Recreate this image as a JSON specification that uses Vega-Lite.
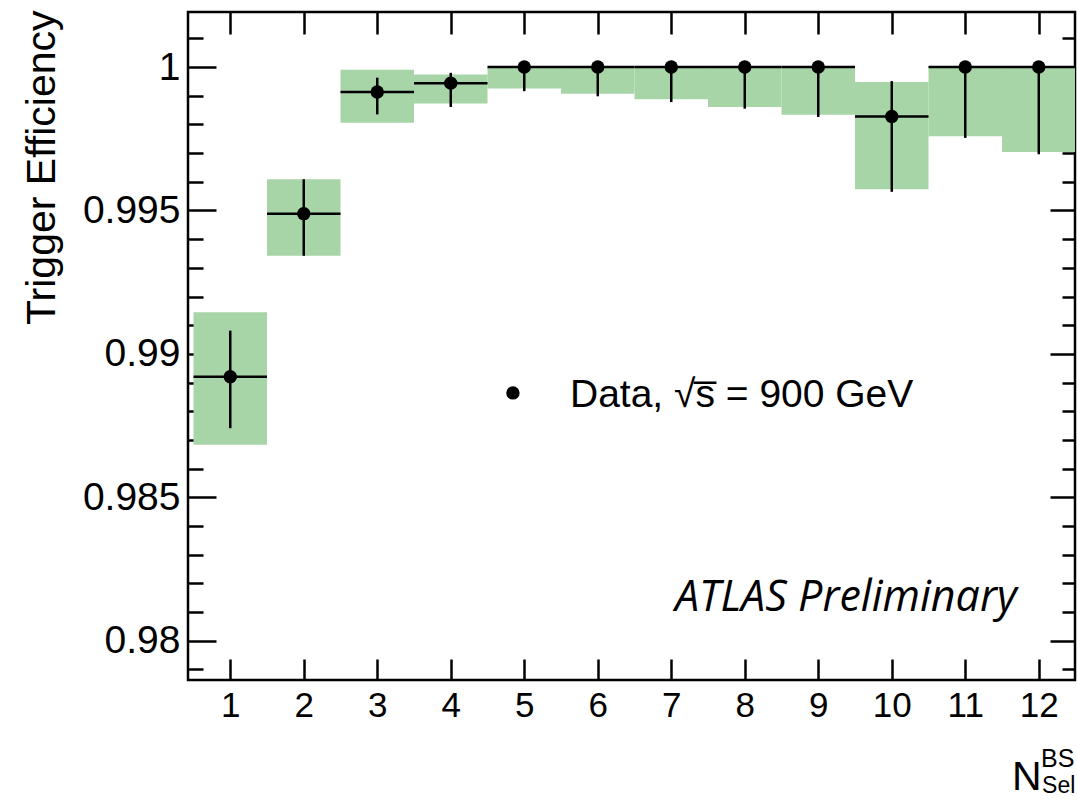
{
  "$schema": "https://vega.github.io/schema/vega-lite/v6.json",
  "width": 887,
  "height": 668,
  "autosize": {"type": "none"},
  "padding": {"left": 188, "top": 12, "right": 2, "bottom": 123},
  "background": "white",
  "config": {
    "view": {"stroke": "black", "strokeWidth": 2.5},
    "font": "Liberation Sans",
    "axis": {"domain": false, "grid": false, "tickColor": "black", "tickWidth": 2.5, "labelColor": "black", "labelFont": "Liberation Sans", "titleFont": "Liberation Sans", "titleColor": "black", "labelOverlap": false, "labelFlush": false, "labelBound": false}
  },
  "datasets": {
    "bins": [
      {"bin": 1, "lo": 0.5, "hi": 1.5, "val": 0.9892, "eLo": 0.98741, "eHi": 0.99081, "bLo": 0.98683, "bHi": 0.99145},
      {"bin": 2, "lo": 1.5, "hi": 2.5, "val": 0.99489, "eLo": 0.99342, "eHi": 0.99609, "bLo": 0.99342, "bHi": 0.99609},
      {"bin": 3, "lo": 2.5, "hi": 3.5, "val": 0.99913, "eLo": 0.99835, "eHi": 0.99963, "bLo": 0.99806, "bHi": 0.99991},
      {"bin": 4, "lo": 3.5, "hi": 4.5, "val": 0.99944, "eLo": 0.99861, "eHi": 0.9998, "bLo": 0.99873, "bHi": 0.99974},
      {"bin": 5, "lo": 4.5, "hi": 5.5, "val": 1.0, "eLo": 0.99916, "eHi": 1.0, "bLo": 0.99925, "bHi": 1.0},
      {"bin": 6, "lo": 5.5, "hi": 6.5, "val": 1.0, "eLo": 0.99898, "eHi": 1.0, "bLo": 0.99907, "bHi": 1.0},
      {"bin": 7, "lo": 6.5, "hi": 7.5, "val": 1.0, "eLo": 0.99878, "eHi": 1.0, "bLo": 0.99888, "bHi": 1.0},
      {"bin": 8, "lo": 7.5, "hi": 8.5, "val": 1.0, "eLo": 0.99855, "eHi": 1.0, "bLo": 0.99861, "bHi": 1.0},
      {"bin": 9, "lo": 8.5, "hi": 9.5, "val": 1.0, "eLo": 0.99826, "eHi": 1.0, "bLo": 0.99834, "bHi": 1.0},
      {"bin": 10, "lo": 9.5, "hi": 10.5, "val": 0.99828, "eLo": 0.99565, "eHi": 0.99951, "bLo": 0.99574, "bHi": 0.99948},
      {"bin": 11, "lo": 10.5, "hi": 11.5, "val": 1.0, "eLo": 0.99753, "eHi": 1.0, "bLo": 0.99759, "bHi": 1.0},
      {"bin": 12, "lo": 11.5, "hi": 12.5, "val": 1.0, "eLo": 0.99696, "eHi": 1.0, "bLo": 0.99704, "bHi": 1.0}
    ]
  },
  "data": {"name": "bins"},
  "resolve": {"axis": {"x": "independent", "y": "independent"}},
  "layer": [
    {
      "mark": {"type": "rect", "color": "#a8d5a8", "opacity": 1, "clip": true},
      "encoding": {
        "x": {"field": "lo", "type": "quantitative", "scale": {"domain": [0.425, 12.493], "nice": false, "zero": false},
          "axis": {"orient": "bottom", "values": [1,2,3,4,5,6,7,8,9,10,11,12], "tickSize": -21, "labelPadding": 29, "labelFontSize": 35, "title": null, "format": "d"}},
        "x2": {"field": "hi"},
        "y": {"field": "bLo", "type": "quantitative", "scale": {"domain": [0.97863, 1.00192], "nice": false, "zero": false},
          "axis": {"orient": "left", "values": [0.98, 0.985, 0.99, 0.995, 1], "tickSize": -28, "labelPadding": 36, "labelFontSize": 39, "format": ".3~f",
            "title": "Trigger Efficiency", "titleFontSize": 41, "titleFontWeight": "normal", "titleAngle": -90, "titleX": -134, "titleY": -2, "titleAlign": "right", "titleBaseline": "alphabetic"}},
        "y2": {"field": "bHi"}
      }
    },
    {
      "mark": {"type": "rule", "color": "black", "strokeWidth": 2.5},
      "encoding": {
        "x": {"field": "bin", "type": "quantitative", "scale": {"domain": [0.425, 12.493], "nice": false, "zero": false},
          "axis": {"orient": "top", "values": [1,2,3,4,5,6,7,8,9,10,11,12], "tickSize": -22, "labels": false, "title": null}},
        "y": {"field": "eLo", "type": "quantitative", "scale": {"domain": [0.97863, 1.00192], "nice": false, "zero": false},
          "axis": {"orient": "right", "values": [0.98, 0.985, 0.99, 0.995, 1], "tickSize": -25, "labels": false, "title": null}},
        "y2": {"field": "eHi"}
      }
    },
    {
      "mark": {"type": "rule", "color": "black", "strokeWidth": 2.5, "clip": true},
      "encoding": {
        "x": {"field": "lo", "type": "quantitative", "scale": {"domain": [0.425, 12.493], "nice": false, "zero": false}, "axis": null},
        "x2": {"field": "hi"},
        "y": {"field": "val", "type": "quantitative", "scale": {"domain": [0.97863, 1.00192], "nice": false, "zero": false},
          "axis": {"orient": "left", "values": [0.979,0.981,0.982,0.983,0.984,0.986,0.987,0.988,0.989,0.991,0.992,0.993,0.994,0.996,0.997,0.998,0.999,1.001], "tickSize": -15, "labels": false, "title": null}}
      }
    },
    {
      "mark": {"type": "point", "filled": true, "color": "black", "opacity": 1, "size": 180},
      "encoding": {
        "x": {"field": "bin", "type": "quantitative", "scale": {"domain": [0.425, 12.493], "nice": false, "zero": false}, "axis": null},
        "y": {"field": "val", "type": "quantitative", "scale": {"domain": [0.97863, 1.00192], "nice": false, "zero": false},
          "axis": {"orient": "right", "values": [0.979,0.981,0.982,0.983,0.984,0.986,0.987,0.988,0.989,0.991,0.992,0.993,0.994,0.996,0.997,0.998,0.999,1.001], "tickSize": -13, "labels": false, "title": null}}
      }
    },
    {
      "data": {"values": [{}]},
      "mark": {"type": "point", "filled": true, "color": "black", "opacity": 1, "size": 180},
      "encoding": {
        "x": {"datum": 4.846, "type": "quantitative", "axis": null},
        "y": {"datum": 0.98864, "type": "quantitative", "axis": null}
      }
    },
    {
      "data": {"values": [{}]},
      "mark": {"type": "text", "text": "Data, √s̅ = 900 GeV", "font": "Liberation Sans", "fontSize": 39, "color": "black", "align": "left", "baseline": "alphabetic"},
      "encoding": {
        "x": {"datum": 5.622, "type": "quantitative", "axis": null},
        "y": {"datum": 0.98815, "type": "quantitative", "axis": null}
      }
    },
    {
      "data": {"values": [{}]},
      "mark": {"type": "text", "text": "ATLAS Preliminary", "font": "Open Sans", "fontStyle": "italic", "fontSize": 43, "color": "black", "align": "left", "baseline": "alphabetic"},
      "encoding": {
        "x": {"datum": 7.05, "type": "quantitative", "axis": null},
        "y": {"datum": 0.98102, "type": "quantitative", "axis": null}
      }
    },
    {
      "data": {"values": [{}]},
      "mark": {"type": "text", "text": "N", "font": "Liberation Sans", "fontSize": 41, "color": "black", "align": "left", "baseline": "alphabetic"},
      "encoding": {
        "x": {"datum": 11.635, "type": "quantitative", "axis": null},
        "y": {"datum": 0.97481, "type": "quantitative", "axis": null}
      }
    },
    {
      "data": {"values": [{}]},
      "mark": {"type": "text", "text": "BS", "font": "Liberation Sans", "fontSize": 25, "color": "black", "align": "left", "baseline": "alphabetic"},
      "encoding": {
        "x": {"datum": 12.03, "type": "quantitative", "axis": null},
        "y": {"datum": 0.97561, "type": "quantitative", "axis": null}
      }
    },
    {
      "data": {"values": [{}]},
      "mark": {"type": "text", "text": "Sel", "font": "Liberation Sans", "fontSize": 23, "color": "black", "align": "left", "baseline": "alphabetic"},
      "encoding": {
        "x": {"datum": 12.045, "type": "quantitative", "axis": null},
        "y": {"datum": 0.97468, "type": "quantitative", "axis": null}
      }
    }
  ]
}
